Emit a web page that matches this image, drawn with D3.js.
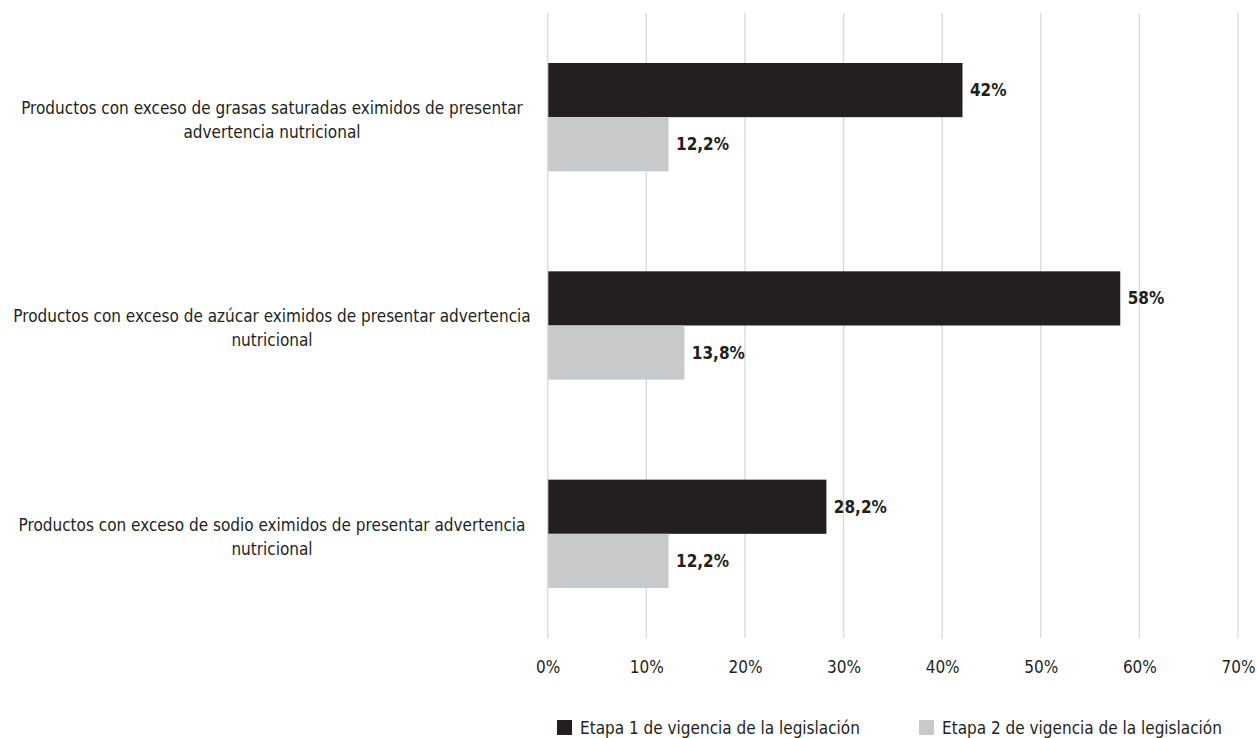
<!DOCTYPE html>
<html>
<head>
<meta charset="utf-8">
<script src="https://cdn.jsdelivr.net/npm/d3@7"></script>
<style>
  body { margin: 0; background: #fff; }
  svg text { font-family: "Liberation Sans Narrow", "DejaVu Sans Condensed", "Roboto", sans-serif; fill: #231f20; }
</style>
</head>
<body>
<svg id="chart"></svg>
<script>
// categories (each split in the lines it is drawn with)
const categories = [
    ["Productos con exceso de grasas saturadas eximidos de presentar", "advertencia nutricional"],
    ["Productos con exceso de azúcar eximidos de presentar advertencia", "nutricional"],
    ["Productos con exceso de sodio eximidos  de presentar advertencia", "nutricional"]
];
const seriesNames = ["Etapa 1 de vigencia de la legislación", "Etapa 2 de vigencia de la legislación"];
const etapa1 = [42, 58, 28.2];
const etapa2 = [12.2, 13.8, 12.2];
const valueLabels1 = ["42%", "58%", "28,2%"];
const valueLabels2 = ["12,2%", "13,8%", "12,2%"];
const xTicks = [0, 10, 20, 30, 40, 50, 60, 70];

const width = 1257, height = 738;
const colors = ["#231f20", "#c8c9cb"];

const svg = d3.select("#chart").attr("width", width).attr("height", height);

const x = d3.scaleLinear().domain([0, 70]).range([547.7, 1238]);
const y0 = d3.scaleBand()
    .domain(d3.range(categories.length))
    .range([13, 638])
    .paddingInner(0.48)
    .paddingOuter(0.24);
const y1 = d3.scaleBand().domain([0, 1]).range([0, y0.bandwidth()]);

// gridlines
svg.append("g")
    .selectAll("line")
    .data(xTicks)
    .join("line")
    .attr("x1", d => x(d)).attr("x2", d => x(d))
    .attr("y1", 13).attr("y2", 638)
    .attr("stroke", "#d9d9d9")
    .attr("stroke-width", 1.3);

// x axis labels
const xAxis = d3.axisBottom(x)
    .tickValues(xTicks)
    .tickFormat(d => d + "%")
    .tickSize(0)
    .tickPadding(0);
const ax = svg.append("g").attr("transform", "translate(0,667)").call(xAxis);
ax.select(".domain").remove();
ax.selectAll("text")
    .attr("font-size", 17)
    .attr("font-family", null)
    .attr("y", 0)
    .attr("dy", "0.35em");

// bars
const groups = svg.append("g")
    .selectAll("g")
    .data(categories.map((c, i) => ({ i, vals: [etapa1[i], etapa2[i]], labels: [valueLabels1[i], valueLabels2[i]] })))
    .join("g")
    .attr("transform", d => `translate(0,${y0(d.i)})`);

groups.selectAll("rect")
    .data(d => d.vals.map((v, s) => ({ v, s })))
    .join("rect")
    .attr("x", x(0) + 0.6)
    .attr("y", d => y1(d.s))
    .attr("width", d => x(d.v) - x(0))
    .attr("height", y1.bandwidth())
    .attr("fill", d => colors[d.s]);

groups.selectAll("text.val")
    .data(d => d.vals.map((v, s) => ({ v, s, label: d.labels[s] })))
    .join("text")
    .attr("class", "val")
    .attr("x", d => x(d.v) + 8)
    .attr("y", d => y1(d.s) + y1.bandwidth() / 2)
    .attr("dy", "0.35em")
    .attr("font-size", 17)
    .attr("font-weight", "bold")
    .text(d => d.label);

// category labels
const catLabels = svg.append("g")
    .selectAll("text")
    .data(categories)
    .join("text")
    .attr("text-anchor", "middle")
    .attr("font-size", 17)
    .attr("transform", (d, i) => `translate(272,${y0(i) + y0.bandwidth() / 2 + 3})`);
catLabels.selectAll("tspan")
    .data(d => d.map((line, j) => ({ line, j, n: d.length })))
    .join("tspan")
    .attr("x", 0)
    .attr("y", d => (d.j - (d.n - 1) / 2) * 24)
    .attr("dy", "0.35em")
    .text(d => d.line);

// legend
const legendX = [557, 919];
const legend = svg.append("g")
    .selectAll("g")
    .data(seriesNames)
    .join("g")
    .attr("transform", (d, i) => `translate(${legendX[i]},720)`);
legend.append("rect")
    .attr("width", 15).attr("height", 15)
    .attr("fill", (d, i) => colors[i]);
legend.append("text")
    .attr("x", 23).attr("y", 8)
    .attr("dy", "0.36em")
    .attr("font-size", 17)
    .text(d => d);
</script>
</body>
</html>
